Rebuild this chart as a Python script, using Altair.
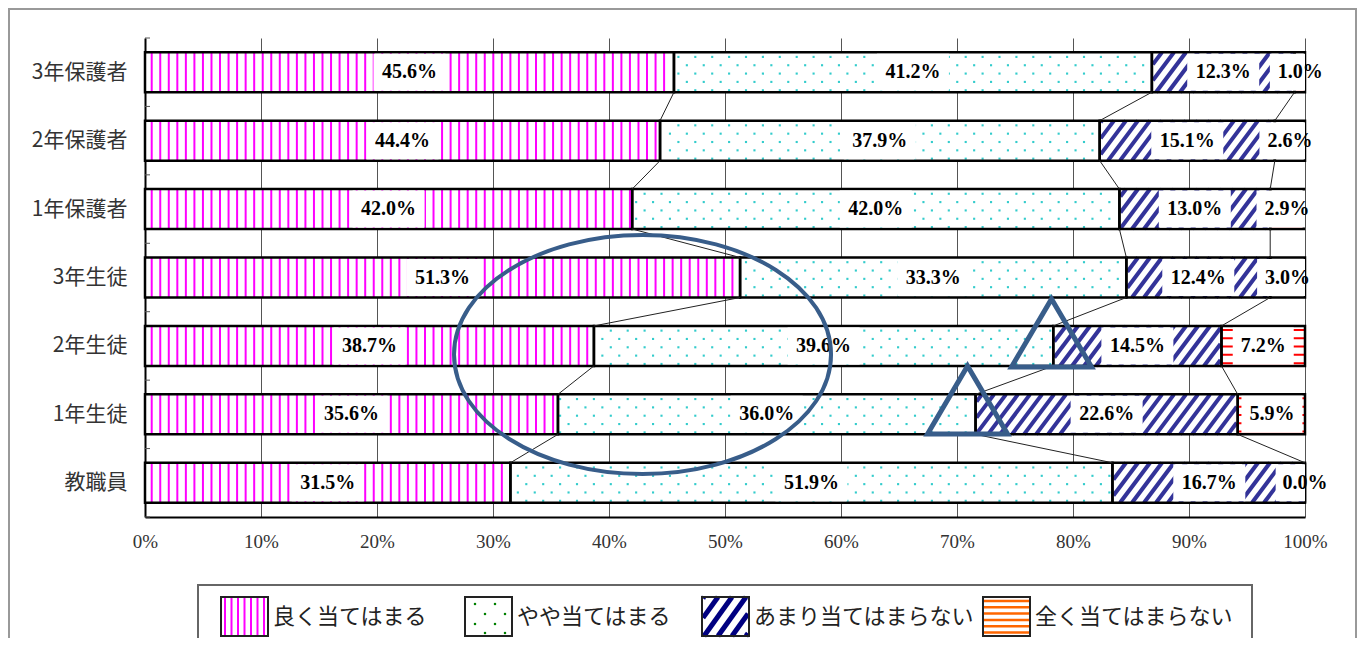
import math
import json
import altair as alt
import pandas as pd

# ---------------- data ----------------
categories = ["3年保護者", "2年保護者", "1年保護者", "3年生徒", "2年生徒", "1年生徒", "教職員"]
series_names = ["良く当てはまる", "やや当てはまる", "あまり当てはまらない", "全く当てはまらない"]
yoku = [45.6, 44.4, 42.0, 51.3, 38.7, 35.6, 31.5]
yaya = [41.2, 37.9, 42.0, 33.3, 39.6, 36.0, 51.9]
amari = [12.3, 15.1, 13.0, 12.4, 14.5, 22.6, 16.7]
mattaku = [1.0, 2.6, 2.9, 3.0, 7.2, 5.9, 0.0]
x_tick_values = [0, 10, 20, 30, 40, 50, 60, 70, 80, 90, 100]

# hand-drawn annotation shapes (axis units: x in %, y in category rows)
ellipse_x = [42.89]
ellipse_y = [4.625]
triangle_x = [78.15, 70.91]
triangle_y = [4.311, 5.29]

# ---------------- layout / style ----------------
W, H = 1160, 479
N = len(categories)
PX = W / 100.0
PY = H / N
HH = 20.0 / PY
PAD = {"left": 137, "top": 30, "right": 52, "bottom": 121}

series_values = [yoku, yaya, amari, mattaku]

xs = alt.Scale(domain=[0, 100], clamp=True, nice=False, zero=False)
ys = alt.Scale(domain=[0, N], reverse=True, nice=False, zero=False)

x_axis = alt.Axis(values=x_tick_values, labelExpr="datum.value + '%'", grid=True,
                  gridColor="#555555", gridWidth=1, ticks=False, tickSize=0,
                  domainColor="#000000", domainWidth=2, labelFont="Liberation Serif",
                  labelFontSize=19, labelColor="#333333", labelPadding=15,
                  labelFlush=False, labelOverlap=False, title=None)
y_axis = alt.Axis(values=[i + 0.5 for i in range(N)],
                  labelExpr=json.dumps(categories, ensure_ascii=False) + "[floor(datum.value)]",
                  grid=False, ticks=False, tickSize=0, domainColor="#000000", domainWidth=2,
                  labelFont="Noto Sans CJK JP", labelFontSize=21, labelColor="#333333",
                  labelPadding=18, labelFlush=False, labelOverlap=False, title=None)


def EX(f):
    return alt.X(f, type="quantitative", scale=xs, axis=x_axis)


def EY(f):
    return alt.Y(f, type="quantitative", scale=ys, axis=y_axis)


# ---------------- segments ----------------
seg_rows = []
cum = []
for i, cat in enumerate(categories):
    c = 0.0
    row_cum = []
    for j, vals in enumerate(series_values):
        v = vals[i]
        start, end = c, c + v
        c = end
        row_cum.append(end)
        lab = f"{v:.1f}%"
        boxw = (11 * len(lab) + 17) / PX
        mid = (start + end) / 2
        seg_rows.append(dict(cat=cat, idx=i, series=j, start=start, end=end, mid=mid,
                             yc=i + 0.5, ytop=i + 0.5 - HH, ybot=i + 0.5 + HH,
                             btop=i + 0.5 - HH + 1.5 / PY, bbot=i + 0.5 + HH - 1.5 / PY,
                             label=lab, bx1=mid - boxw / 2, bx2=mid + boxw / 2))
    cum.append(row_cum)
seg = pd.DataFrame(seg_rows)

# ---------------- pattern textures (derived from segments) ----------------
def diag_segments(xa, xb, ytp, ybp, period, run, phase, inset):
    out = []
    h = ybp - ytp
    kmin = int(math.floor((xa - run - phase) / period)) - 1
    kmax = int(math.ceil((xb - phase) / period)) + 1
    for k in range(kmin, kmax + 1):
        x0 = phase + k * period
        lo, hi = xa + inset, xb - inset
        t0 = max(0.0, (lo - x0) / run)
        t1 = min(1.0, (hi - x0) / run)
        if t1 - t0 > 0.03:
            out.append((x0 + run * t0, ybp - h * t0, x0 + run * t1, ybp - h * t1))
    return out


stripe_rows, dot_rows, diag_rows, hline_rows = [], [], [], []
for r in seg_rows:
    xa = r["start"] * PX
    xb = min(r["end"], 100) * PX
    if xb - xa < 1:
        continue
    ytp = r["ytop"] * PY
    ybp = r["ybot"] * PY
    s = r["series"]
    if s == 0:
        per, ph = 8.54, 6.7
        for k in range(int((xa - ph) // per) - 1, int((xb - ph) // per) + 2):
            xc = ph + k * per
            if xa + 1.5 <= xc <= xb - 1.5:
                stripe_rows.append(dict(x=xc / PX, y=r["ytop"], y2=r["ybot"]))
    elif s == 1:
        per = 16.9
        for rr in range(5):
            yy = ytp + 4.7 + rr * 8.33
            ph = 9.5 + (rr % 2) * per / 2
            for k in range(int((xa - ph) // per) - 1, int((xb - ph) // per) + 2):
                xc = ph + k * per
                if xa + 2 <= xc <= xb - 2:
                    dot_rows.append(dict(x=xc / PX, y=yy / PY))
    elif s == 2:
        for (x1, y1, x2, y2) in diag_segments(xa, xb, ytp, ybp, 12.0, 30.0, 3.0, 1.0):
            diag_rows.append(dict(x=x1 / PX, y=y1 / PY, x2=x2 / PX, y2=y2 / PY))
    else:
        for rr in range(5):
            yy = ytp + 4.0 + rr * 8.3
            hline_rows.append(dict(x=xa / PX, x2=xb / PX, y=yy / PY))

stripes_df = pd.DataFrame(stripe_rows)
dots_df = pd.DataFrame(dot_rows)
diag_df = pd.DataFrame(diag_rows)
hline_df = pd.DataFrame(hline_rows)

# series lines between consecutive bars
sl_rows = []
for i in range(N - 1):
    for j in range(3):
        sl_rows.append(dict(x=cum[i][j], x2=cum[i + 1][j], y=i + 0.5 + HH, y2=i + 1.5 - HH))
sl_df = pd.DataFrame(sl_rows)

# inner boundary ticks on the category axis
bt_df = pd.DataFrame(dict(y=list(range(N + 1)), x=[0.0] * (N + 1), x2=[5.0 / PX] * (N + 1)))

# ---------------- layers ----------------
base = alt.Chart(seg).mark_rect(fill="white").encode(
    x=EX("start"), x2="end:Q", y=EY("ytop"), y2="ybot:Q")

stripes = alt.Chart(stripes_df).mark_rule(color="#FF00FF", strokeWidth=2).encode(
    x=EX("x"), y=EY("y"), y2="y2:Q")

dots = alt.Chart(dots_df).mark_square(color="#33CCCC", size=4.5, opacity=1).encode(
    x=EX("x"), y=EY("y"))

diags = alt.Chart(diag_df).mark_rule(color="#333399", strokeWidth=4).encode(
    x=EX("x"), x2="x2:Q", y=EY("y"), y2="y2:Q")

hlines = alt.Chart(hline_df).mark_rule(color="#FF0000", strokeWidth=2).encode(
    x=EX("x"), x2="x2:Q", y=EY("y"))

outlines = alt.Chart(seg).mark_rect(fillOpacity=0, stroke="#000000", strokeWidth=2.5).encode(
    x=EX("start"), x2="end:Q", y=EY("ytop"), y2="ybot:Q")

boxes = alt.Chart(seg).mark_rect(fill="white").encode(
    x=EX("bx1"), x2="bx2:Q", y=EY("btop"), y2="bbot:Q")

slines = alt.Chart(sl_df).mark_rule(color="#222222", strokeWidth=1).encode(
    x=EX("x"), x2="x2:Q", y=EY("y"), y2="y2:Q")

bticks = alt.Chart(bt_df).mark_rule(color="#555555", strokeWidth=1).encode(
    x=EX("x"), x2="x2:Q", y=EY("y"))

texts = alt.Chart(seg).mark_text(font="Liberation Serif", fontSize=20, fontWeight="bold",
                                 color="#000000", align="center", baseline="middle").encode(
    x=EX("mid"), y=EY("yc"), text="label:N")

# annotation ellipse + triangles
rx, ry = 188.5, 119.5
kk = ry / rx
cc = 0.5523
ell_path = (f"M1,0 C1,{cc*kk:.4f} {cc:.4f},{kk:.4f} 0,{kk:.4f} "
            f"C{-cc:.4f},{kk:.4f} -1,{cc*kk:.4f} -1,0 "
            f"C-1,{-cc*kk:.4f} {-cc:.4f},{-kk:.4f} 0,{-kk:.4f} "
            f"C{cc:.4f},{-kk:.4f} 1,{-cc*kk:.4f} 1,0 Z")
ellipse = alt.Chart(pd.DataFrame(dict(x=ellipse_x, y=ellipse_y))).mark_point(
    shape=ell_path, size=(2 * rx) ** 2, filled=False, color="#385D8A", strokeWidth=4,
    opacity=1).encode(x=EX("x"), y=EY("y"))

tw, th = 80.0, 68.0
tri_path = f"M0,{-th/tw:.4f} L1,{th/tw:.4f} L-1,{th/tw:.4f} Z"
tris = alt.Chart(pd.DataFrame(dict(x=triangle_x, y=triangle_y))).mark_point(
    shape=tri_path, size=tw ** 2, filled=False, color="#385D8A", strokeWidth=5,
    opacity=1).encode(x=EX("x"), y=EY("y"))

# ---------------- custom legend (pixel positions relative to plot) ----------------
SW_X = [76, 320, 557, 838]
SW_W = 47
SW_Y0, SW_Y1 = 559, 598
legend_colors = ["#FF00FF", "#008000", "#000080", "#FF6600"]

one = pd.DataFrame({"a": [0]})
leg_box = alt.Chart(one).mark_rect(fill="white", stroke="#666666", strokeWidth=2).encode(
    x=alt.value(53), x2=alt.value(1107), y=alt.value(547), y2=alt.value(720))

sw_df = pd.DataFrame(dict(x=SW_X, x2=[v + SW_W for v in SW_X], y=[SW_Y0] * 4, y2=[SW_Y1] * 4))
leg_fill = alt.Chart(sw_df).mark_rect(fill="white").encode(
    x=alt.X("x:Q", scale=None), x2="x2:Q", y=alt.Y("y:Q", scale=None), y2="y2:Q")
leg_border = alt.Chart(sw_df).mark_rect(fillOpacity=0, stroke="#222222", strokeWidth=2).encode(
    x=alt.X("x:Q", scale=None), x2="x2:Q", y=alt.Y("y:Q", scale=None), y2="y2:Q")

ll_rows, ld_rows = [], []
x0 = SW_X[0]
xc = x0 + 4.0
while xc < x0 + SW_W - 2:
    ll_rows.append(dict(x=xc, x2=xc, y=SW_Y0, y2=SW_Y1, col=legend_colors[0], w=2))
    xc += 6.5
x0 = SW_X[1]
for rr, yy in enumerate([SW_Y0 + 7, SW_Y0 + 17, SW_Y0 + 27, SW_Y0 + 36]):
    for cx in ([10, 30] if rr % 2 == 0 else [20, 40]):
        ld_rows.append(dict(x=x0 + cx, y=yy, col=legend_colors[1]))
x0 = SW_X[2]
for (a1, b1, a2, b2) in diag_segments(x0, x0 + SW_W, SW_Y0, SW_Y1, 14.0, 28.0, x0 + 2.0, 1.0):
    ll_rows.append(dict(x=a1, x2=a2, y=b1, y2=b2, col=legend_colors[2], w=5))
x0 = SW_X[3]
for rr in range(6):
    yy = SW_Y0 + 4 + rr * 6.3
    ll_rows.append(dict(x=x0, x2=x0 + SW_W, y=yy, y2=yy, col=legend_colors[3], w=2.5))
ll_df = pd.DataFrame(ll_rows)
ld_df = pd.DataFrame(ld_rows)

leg_lines = alt.Chart(ll_df).mark_rule().encode(
    x=alt.X("x:Q", scale=None), x2="x2:Q", y=alt.Y("y:Q", scale=None), y2="y2:Q",
    color=alt.Color("col:N", scale=None), strokeWidth=alt.StrokeWidth("w:Q", scale=None))
leg_dots = alt.Chart(ld_df).mark_square(size=5, opacity=1).encode(
    x=alt.X("x:Q", scale=None), y=alt.Y("y:Q", scale=None),
    color=alt.Color("col:N", scale=None))

lt_df = pd.DataFrame(dict(x=[v + 52 for v in SW_X], y=[579] * 4, t=series_names))
leg_text = alt.Chart(lt_df).mark_text(font="Noto Sans CJK JP", fontSize=22, color="#222222",
                                      align="left", baseline="middle").encode(
    x=alt.X("x:Q", scale=None), y=alt.Y("y:Q", scale=None), text="t:N")

frame = alt.Chart(one).mark_rect(fillOpacity=0, stroke="#999999", strokeWidth=2).encode(
    x=alt.value(-136), x2=alt.value(1211), y=alt.value(-29), y2=alt.value(720))

chart = alt.layer(
    base, stripes, dots, diags, hlines, outlines, boxes, slines, bticks, texts,
    ellipse, tris, leg_box, leg_fill, leg_lines, leg_dots, leg_border, leg_text, frame
).properties(
    width=W, height=H, padding=PAD, autosize=alt.AutoSizeParams(type="none")
).configure(background="white").configure_view(strokeWidth=0)

chart.save("out.html", embed_options={"renderer": "svg", "actions": False})
